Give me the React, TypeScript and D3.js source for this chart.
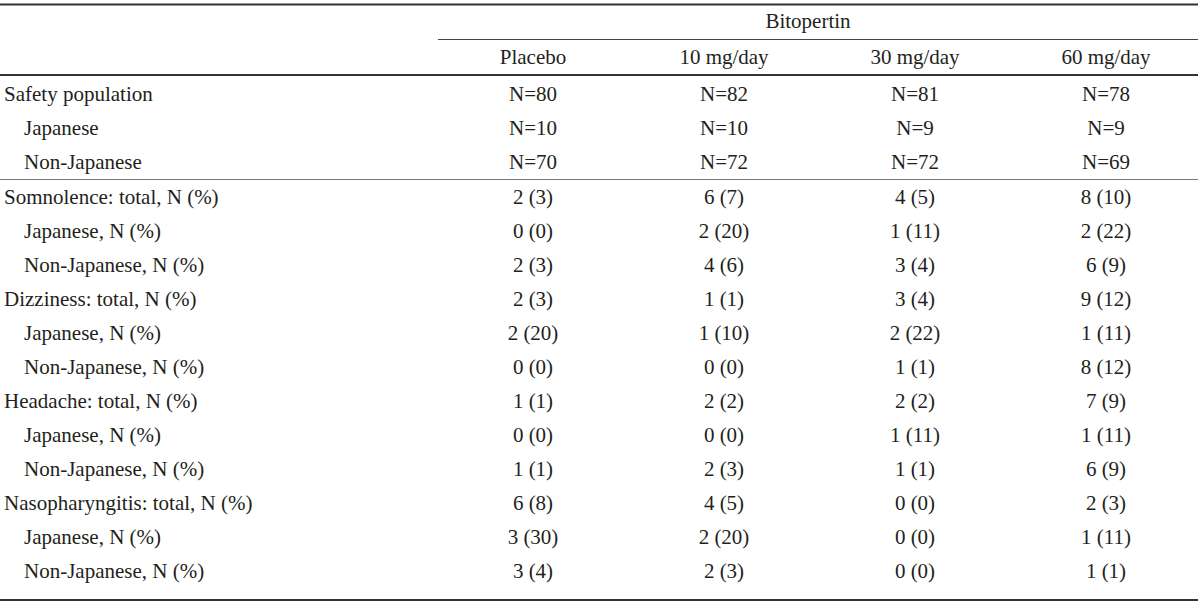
import React, { useEffect, useRef } from 'react';
import * as d3 from 'd3';

const groupLabel = 'Bitopertin';
const columns = ['Placebo', '10 mg/day', '30 mg/day', '60 mg/day'];

const rowLabels = [
  'Safety population',
  'Japanese',
  'Non-Japanese',
  'Somnolence: total, N (%)',
  'Japanese, N (%)',
  'Non-Japanese, N (%)',
  'Dizziness: total, N (%)',
  'Japanese, N (%)',
  'Non-Japanese, N (%)',
  'Headache: total, N (%)',
  'Japanese, N (%)',
  'Non-Japanese, N (%)',
  'Nasopharyngitis: total, N (%)',
  'Japanese, N (%)',
  'Non-Japanese, N (%)',
];
// sub rows get indented
const rowIndent = [false, true, true, false, true, true, false, true, true, false, true, true, false, true, true];

const placebo = ['N=80', 'N=10', 'N=70', '2 (3)', '0 (0)', '2 (3)', '2 (3)', '2 (20)', '0 (0)', '1 (1)', '0 (0)', '1 (1)', '6 (8)', '3 (30)', '3 (4)'];
const mg10 = ['N=82', 'N=10', 'N=72', '6 (7)', '2 (20)', '4 (6)', '1 (1)', '1 (10)', '0 (0)', '2 (2)', '0 (0)', '2 (3)', '4 (5)', '2 (20)', '2 (3)'];
const mg30 = ['N=81', 'N=9', 'N=72', '4 (5)', '1 (11)', '3 (4)', '3 (4)', '2 (22)', '1 (1)', '2 (2)', '1 (11)', '1 (1)', '0 (0)', '0 (0)', '0 (0)'];
const mg60 = ['N=78', 'N=9', 'N=69', '8 (10)', '2 (22)', '6 (9)', '9 (12)', '1 (11)', '8 (12)', '7 (9)', '1 (11)', '6 (9)', '2 (3)', '1 (11)', '1 (1)'];

export default function App() {
  const svgRef = useRef<SVGSVGElement>(null);

  useEffect(() => {
    if (!svgRef.current) return;
    d3.select(svgRef.current).selectAll('*').remove();

    const width = 1200;
    const height = 605;
    const textColor = '#231f20';
    const font = '"Liberation Serif", "Times New Roman", serif';
    const fontSize = 21;

    const svg = d3.select(svgRef.current)
      .attr('width', width)
      .attr('height', height)
      .style('font-family', font)
      .style('font-size', `${fontSize}px`);

    const x = d3.scalePoint<string>()
      .domain(columns)
      .range([533, 1106]);

    const y = d3.scalePoint<number>()
      .domain(d3.range(rowLabels.length))
      .range([94, 571]);

    const values = [placebo, mg10, mg30, mg60];

    // rules
    const rule = (x1: number, x2: number, yy: number, w: number, color: string) => {
      svg.append('line')
        .attr('x1', x1).attr('x2', x2)
        .attr('y1', yy).attr('y2', yy)
        .attr('stroke', color)
        .attr('stroke-width', w);
    };
    rule(0, 1198, 4.5, 2, '#333');
    rule(438, 1198, 39.5, 1, '#444');
    rule(0, 1198, 75, 2, '#333');
    rule(0, 1198, 179.5, 1, '#777');
    rule(0, 1198, 600, 2, '#333');

    // group header
    svg.append('text')
      .attr('x', 808)
      .attr('y', 21)
      .attr('dy', '0.35em')
      .attr('text-anchor', 'middle')
      .attr('fill', textColor)
      .text(groupLabel);

    // column headers
    svg.selectAll('.col-head')
      .data(columns)
      .enter()
      .append('text')
      .attr('class', 'col-head')
      .attr('x', d => x(d)!)
      .attr('y', 57)
      .attr('dy', '0.35em')
      .attr('text-anchor', 'middle')
      .attr('fill', textColor)
      .text(d => d);

    // row labels
    svg.selectAll('.row-label')
      .data(rowLabels)
      .enter()
      .append('text')
      .attr('class', 'row-label')
      .attr('x', (d, i) => (rowIndent[i] ? 24 : 4))
      .attr('y', (d, i) => y(i)!)
      .attr('dy', '0.35em')
      .attr('fill', textColor)
      .text(d => d);

    // cells
    columns.forEach((col, ci) => {
      svg.selectAll(`.cell-${ci}`)
        .data(values[ci])
        .enter()
        .append('text')
        .attr('class', `cell-${ci}`)
        .attr('x', x(col)!)
        .attr('y', (d, i) => y(i)!)
        .attr('dy', '0.35em')
        .attr('text-anchor', 'middle')
        .attr('fill', textColor)
        .text(d => d);
    });
  }, []);

  return (
    <div style={{ position: 'absolute', left: 0, top: 0, background: '#fff' }}>
      <svg ref={svgRef} style={{ display: 'block' }}></svg>
    </div>
  );
}
